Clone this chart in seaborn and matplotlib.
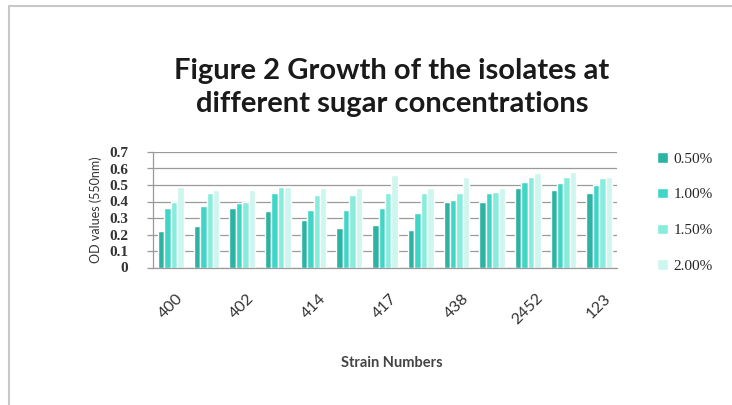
import matplotlib
matplotlib.use("Agg")
import matplotlib.pyplot as plt
from matplotlib.lines import Line2D
import numpy as np
import pandas as pd
import seaborn as sns

# strain labels; Excel only printed every second one
strain_ticks = ["400", "", "402", "", "414", "", "417", "", "438", "", "2452", "", "123"]
concentrations = ["0.50%", "1.00%", "1.50%", "2.00%"]

od_050 = [0.22, 0.25, 0.36, 0.34, 0.29, 0.24, 0.26, 0.23, 0.40, 0.40, 0.48, 0.47, 0.45]
od_100 = [0.36, 0.37, 0.39, 0.45, 0.35, 0.35, 0.36, 0.33, 0.41, 0.45, 0.52, 0.51, 0.50]
od_150 = [0.40, 0.45, 0.40, 0.49, 0.44, 0.44, 0.45, 0.45, 0.45, 0.46, 0.55, 0.55, 0.54]
od_200 = [0.49, 0.47, 0.47, 0.49, 0.48, 0.48, 0.56, 0.48, 0.55, 0.48, 0.57, 0.58, 0.55]

bar_colors = ["#2bb3a3", "#40d6c6", "#86ecdc", "#cdf6ee"]


def build_frame() -> pd.DataFrame:
    rows = []
    for conc, vals in zip(concentrations, [od_050, od_100, od_150, od_200]):
        for idx, v in enumerate(vals):
            rows.append({"strain": idx, "concentration": conc, "od": v})
    return pd.DataFrame(rows)


def main() -> None:
    df = build_frame()

    sns.set_theme(style="white")
    plt.rcParams["font.family"] = ["Lato", "DejaVu Sans"]

    W, H = 732, 405
    fig = plt.figure(figsize=(W / 100, H / 100), dpi=100)
    fig.patch.set_facecolor("white")

    ax = fig.add_axes([153 / W, 1 - 267.5 / H, 464 / W, 115.5 / H])
    sns.barplot(
        data=df, x="strain", y="od", hue="concentration",
        palette=bar_colors, width=0.72, saturation=1, ax=ax,
    )

    ax.set_ylim(0, 0.7)
    ax.set_yticks(np.arange(0, 0.71, 0.1))
    ax.set_yticklabels(["0"] + [f"{t:.1f}" for t in np.arange(0.1, 0.71, 0.1)],
                       family="Liberation Serif", fontsize=11, fontweight="bold",
                       color="#333333")
    ax.yaxis.grid(True, color="#9a9a9a", lw=0.9)
    ax.set_axisbelow(True)

    ax.set_xticks(range(len(strain_ticks)))
    ax.set_xticklabels(strain_ticks, rotation=45, ha="center", va="top",
                       fontsize=11.5, color="#333333")
    ax.set_xticks(np.arange(-0.5, len(strain_ticks), 1.0), minor=True)
    ax.tick_params(axis="x", which="major", length=0, pad=17)
    ax.tick_params(axis="x", which="minor", length=5, color="#9a9a9a", width=0.9, direction="out")
    ax.tick_params(axis="y", length=4, color="#9a9a9a", width=0.9, direction="out", pad=14, left=True)

    for side in ["top", "right"]:
        ax.spines[side].set_visible(False)
    for side in ["left", "bottom"]:
        ax.spines[side].set_color("#9a9a9a")
        ax.spines[side].set_linewidth(0.9)

    ax.set_xlabel("")
    ax.set_ylabel("")
    fig.text(392 / W, 1 - 363 / H, "Strain Numbers", ha="center", va="center",
             fontsize=10.5, fontweight="bold", color="#444444")
    fig.text(96 / W, 1 - 210 / H, "OD values (550nm)", ha="center", va="center",
             rotation=90, fontsize=9, color="#333333")

    fig.text(392 / W, 1 - 71 / H, "Figure 2 Growth of the isolates at",
             ha="center", va="center", fontsize=21, fontweight="bold", color="#1a1a1a")
    fig.text(392 / W, 1 - 104 / H, "different sugar concentrations",
             ha="center", va="center", fontsize=21, fontweight="bold", color="#1a1a1a")

    sns.move_legend(
        ax, "center left", bbox_to_anchor=(657 / W, 1 - 212.5 / H),
        bbox_transform=fig.transFigure, frameon=False, title=None,
        handlelength=0.7, handleheight=0.7, handletextpad=0.4,
        labelspacing=1.45, borderpad=0, borderaxespad=0,
        prop={"family": "Liberation Serif", "size": 11},
    )

    # chart-area border (only top and left show in the crop)
    fig.add_artist(Line2D([9 / W, 1], [1 - 6 / H, 1 - 6 / H], color="#c8c8c8", lw=1.5))
    fig.add_artist(Line2D([9 / W, 9 / W], [0, 1 - 6 / H], color="#c8c8c8", lw=1.5))

    fig.savefig("out.png", dpi=100)
    plt.close(fig)


if __name__ == "__main__":
    main()
